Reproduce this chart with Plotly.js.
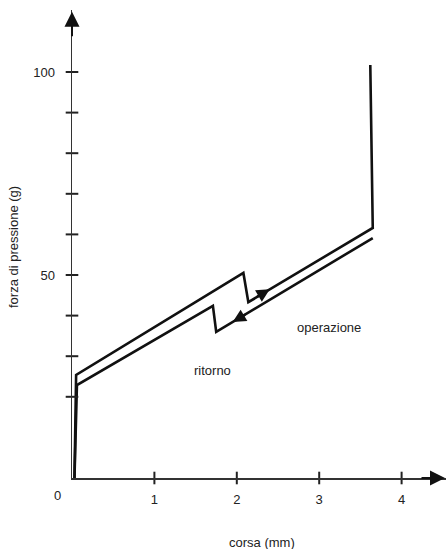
<!DOCTYPE html>
<html>
<head>
<meta charset="utf-8">
<script src="https://cdn.plot.ly/plotly-3.0.1.min.js"></script>
<style>html,body{margin:0;padding:0;background:#fff;}#chart{width:446px;height:549px;}</style>
</head>
<body>
<div id="chart"></div>
<script>
// Data
const operazioneX = [0.03, 0.05, 2.08, 2.14, 3.65, 3.62];
const operazioneY = [0, 25.4, 50.5, 43.3, 61.6, 101.7];
const ritornoX = [3.65, 1.75, 1.71, 0.06, 0.03];
const ritornoY = [59.1, 36.0, 42.4, 22.9, 0];
// direction arrows on the curves: [x, y, tail dx(px), tail dy(px)]
const arrowOperazione = [2.40, 46.5, -14, 8.4];
const arrowRitorno = [1.95, 38.4, 14, -8.4];
const xTickVals = [1, 2, 3, 4];
const xTickText = ['1', '2', '3', '4'];
const yTickVals = [20, 30, 40, 50, 60, 70, 80, 90, 100];
const yTickText = ['', '', '', '50', '', '', '', '', '100'];
const xTitle = 'corsa (mm)';
const yTitle = 'forza di pressione (g)';
const labelOperazione = 'operazione';
const labelRitorno = 'ritorno';

const font = {family: 'Liberation Sans, Arial, sans-serif', size: 13, color: '#222'};

const traces = [
  {x: operazioneX, y: operazioneY, mode: 'lines', line: {color: '#111', width: 2.6}, hoverinfo: 'skip', cliponaxis: false},
  {x: ritornoX, y: ritornoY, mode: 'lines', line: {color: '#111', width: 2.6}, hoverinfo: 'skip', cliponaxis: false},
  {x: xTickVals, y: xTickVals.map(() => 0), mode: 'markers', cliponaxis: false, hoverinfo: 'skip',
   marker: {symbol: 'line-ns', size: 9, line: {color: '#222', width: 2}}},
  {x: yTickVals.map(() => 0), y: yTickVals, mode: 'markers', cliponaxis: false, hoverinfo: 'skip',
   marker: {symbol: 'line-ew', size: 9, line: {color: '#222', width: 2}}}
];

const layout = {
  width: 446, height: 549,
  margin: {l: 72, r: 0, t: 10, b: 71},
  showlegend: false,
  paper_bgcolor: '#fff', plot_bgcolor: '#fff',
  font: font,
  xaxis: {range: [0, 374 / 82.4], showgrid: false, zeroline: false, showline: true, linecolor: '#333', linewidth: 1.5,
          tickvals: xTickVals, ticktext: xTickText, ticks: '', ticklabelstandoff: 9, tickfont: font, fixedrange: true},
  yaxis: {range: [0, 468 / 4.06], showgrid: false, zeroline: false, showline: true, linecolor: '#333', linewidth: 1.5,
          tickvals: yTickVals, ticktext: yTickText, ticks: '', ticklabelstandoff: 13, tickfont: font, fixedrange: true},
  annotations: [
    // axis arrowheads
    {xref: 'paper', yref: 'y', x: 1, y: 0, ax: -26, ay: 0, text: '', showarrow: true, arrowhead: 2, arrowsize: 1.5, arrowwidth: 2, arrowcolor: '#111'},
    {xref: 'x', yref: 'paper', x: 0, y: 0.996, ax: 0, ay: 26, text: '', showarrow: true, arrowhead: 2, arrowsize: 1.5, arrowwidth: 2, arrowcolor: '#111'},
    // curve direction arrows
    {xref: 'x', yref: 'y', x: arrowOperazione[0], y: arrowOperazione[1], ax: arrowOperazione[2], ay: arrowOperazione[3], text: '', showarrow: true, arrowhead: 2, arrowsize: 1.1, arrowwidth: 2.4, arrowcolor: '#111'},
    {xref: 'x', yref: 'y', x: arrowRitorno[0], y: arrowRitorno[1], ax: arrowRitorno[2], ay: arrowRitorno[3], text: '', showarrow: true, arrowhead: 2, arrowsize: 1.1, arrowwidth: 2.4, arrowcolor: '#111'},
    // origin label
    {xref: 'x', yref: 'y', x: 0, y: 0, xshift: -15, yshift: -17, text: '0', showarrow: false, font: font},
    // curve labels
    {xref: 'x', yref: 'y', x: 3.12, y: 37, text: labelOperazione, showarrow: false, font: font},
    {xref: 'x', yref: 'y', x: 1.7, y: 26.5, text: labelRitorno, showarrow: false, font: font},
    // axis titles
    {xref: 'paper', yref: 'paper', x: (262 - 72) / 374, y: 0, yshift: -64, yanchor: 'middle', text: xTitle, showarrow: false, font: font},
    {xref: 'paper', yref: 'paper', x: 0, xshift: -59, xanchor: 'center', yanchor: 'middle', y: (549 - 247 - 71) / 468, textangle: -90, text: yTitle, showarrow: false, font: font}
  ]
};

Plotly.newPlot('chart', traces, layout, {displayModeBar: false, staticPlot: true});
</script>
</body>
</html>
